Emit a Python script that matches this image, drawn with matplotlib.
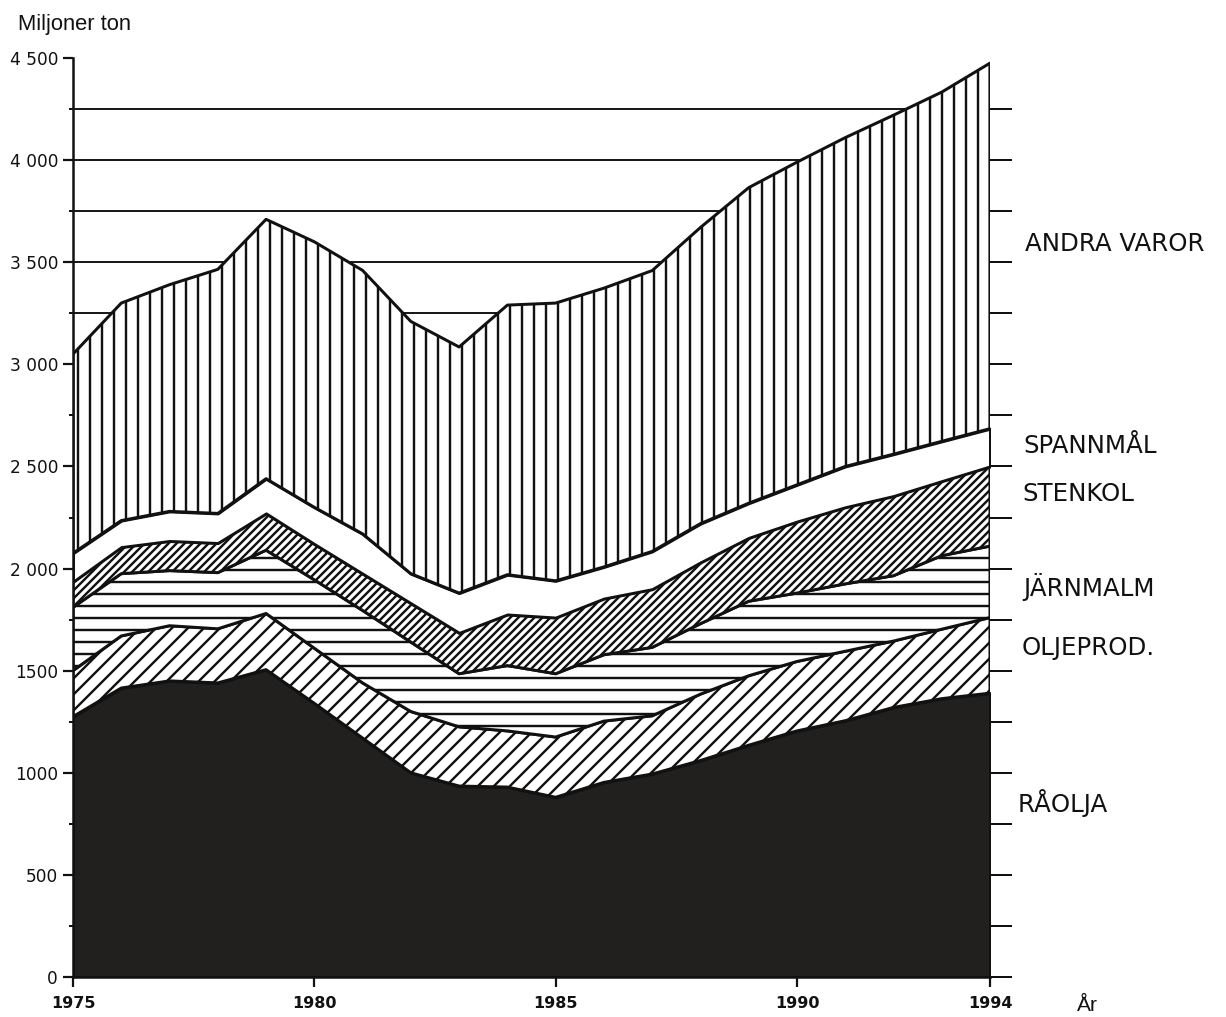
import numpy as np
import matplotlib
matplotlib.use("Agg")
import matplotlib.pyplot as plt
from matplotlib.ticker import FixedLocator

# ---------------- data (miljoner ton) ----------------
years = list(range(1975, 1995))
raolja      = [1275, 1415, 1450, 1440, 1505, 1340, 1170, 1000, 935, 930, 880, 953, 994, 1060, 1135, 1205, 1255, 1320, 1363, 1390]
oljeprod    = [225, 255, 270, 265, 275, 270, 270, 300, 290, 275, 295, 300, 285, 325, 340, 340, 340, 325, 340, 370]
jarnmalm    = [310, 305, 270, 275, 310, 335, 355, 340, 260, 320, 310, 325, 335, 345, 365, 335, 330, 320, 360, 350]
stenkol     = [125, 130, 145, 145, 180, 175, 180, 190, 200, 250, 275, 275, 285, 300, 310, 350, 375, 390, 365, 390]
spannmal    = [140, 130, 145, 145, 170, 180, 195, 145, 195, 195, 180, 155, 185, 190, 170, 180, 200, 205, 195, 185]
andra_varor = [975, 1065, 1110, 1195, 1270, 1300, 1290, 1235, 1205, 1320, 1360, 1365, 1375, 1450, 1545, 1580, 1610, 1660, 1710, 1790]

series_names = ["RÅOLJA", "OLJEPROD.", "JÄRNMALM", "STENKOL", "SPANNMÅL", "ANDRA VAROR"]
ytick_values = [0, 500, 1000, 1500, 2000, 2500, 3000, 3500, 4000, 4500]
ytick_labels = ["0", "500", "1000", "1500", "2 000", "2 500", "3 000", "3 500", "4 000", "4 500"]
xtick_values = [1975, 1980, 1985, 1990, 1994]
xtick_labels = ["1975", "1980", "1985", "1990", "1994"]

# ---------------- figure geometry ----------------
DPI = 288
W, H = 1226, 1017
PT = 72.0 / DPI          # points per pixel

plt.rcParams["hatch.linewidth"] = 2.4 * PT
plt.rcParams["font.family"] = ["DejaVu Sans"]

fig = plt.figure(figsize=(W / DPI, H / DPI), dpi=DPI)
fig.patch.set_facecolor("white")
ax = fig.add_axes([73 / W, 40 / H, 917 / W, 919 / H])
ax.set_xlim(years[0], years[-1])
ax.set_ylim(0, 4500)

# background horizontal rules (visible only above the stacked areas)
for v in np.arange(250, 4500, 250):
    ax.axhline(v, color="#1a1a1a", lw=2.0 * PT, zorder=0.5)

# ---------------- stacked areas ----------------
layers = [raolja, oljeprod, jarnmalm, stenkol, spannmal, andra_varor]
styles = [
    dict(facecolor="#221f1f", hatch=None),
    dict(facecolor="white", hatch="/" * 6),
    dict(facecolor="white", hatch="----"),
    dict(facecolor="white", hatch="/" * 12),
    dict(facecolor="white", hatch=None),
    dict(facecolor="white", hatch="||||"),
]
x = np.array(years, dtype=float)
lower = np.zeros(len(years))
for vals, st in zip(layers, styles):
    upper = lower + np.array(vals, dtype=float)
    ax.fill_between(x, lower, upper, facecolor=st["facecolor"], hatch=st["hatch"],
                    edgecolor="#111111", linewidth=3.0 * PT, zorder=2)
    lower = upper

# ---------------- axes styling ----------------
for s in ["top", "right"]:
    ax.spines[s].set_visible(False)
for s in ["left", "bottom"]:
    ax.spines[s].set_linewidth(2.5 * PT)
    ax.spines[s].set_color("#111111")
    ax.spines[s].set_zorder(3)

ax.yaxis.set_major_locator(FixedLocator(ytick_values))
ax.set_yticklabels(ytick_labels)
ax.yaxis.set_minor_locator(FixedLocator(list(np.arange(250, 4500, 500))))
ax.tick_params(axis="y", which="major", direction="out", length=10 * PT, width=2.2 * PT,
               pad=5 * PT, labelsize=17 * PT, colors="#111111")
ax.tick_params(axis="y", which="minor", direction="out", length=4 * PT, width=2.0 * PT,
               colors="#111111")

ax.xaxis.set_major_locator(FixedLocator(xtick_values))
ax.set_xticklabels(xtick_labels, fontweight="bold")
ax.tick_params(axis="x", which="major", direction="out", length=10 * PT, width=2.2 * PT,
               pad=9 * PT, labelsize=16 * PT, colors="#111111")

# right-hand tick marks on the 1994 edge
tw = ax.twinx()
tw.set_ylim(0, 4500)
tw.yaxis.set_major_locator(FixedLocator(list(np.arange(0, 4500, 250))))
tw.tick_params(axis="y", direction="out", length=22 * PT, width=2.0 * PT,
               labelright=False, colors="#111111")
for s in tw.spines.values():
    s.set_visible(False)

# ---------------- texts ----------------
def ftext(px, py, s, size_px, **kw):
    fig.text(px / W, 1 - py / H, s, fontsize=size_px * PT, va="baseline", ha="left",
             color="#111111", **kw)

ftext(18, 30, "Miljoner ton", 22, family=["Liberation Sans", "DejaVu Sans"])
ftext(1076, 1011, "År", 21, family=["Liberation Sans", "DejaVu Sans"])

label_pos = {
    "ANDRA VAROR": (1025, 251),
    "SPANNMÅL": (1023, 453),
    "STENKOL": (1022, 501),
    "JÄRNMALM": (1023, 596),
    "OLJEPROD.": (1022, 655),
    "RÅOLJA": (1018, 812),
}
for name in series_names:
    px, py = label_pos[name]
    ftext(px, py, name, 24.5)

fig.savefig("out.png", dpi=DPI, facecolor="white")
